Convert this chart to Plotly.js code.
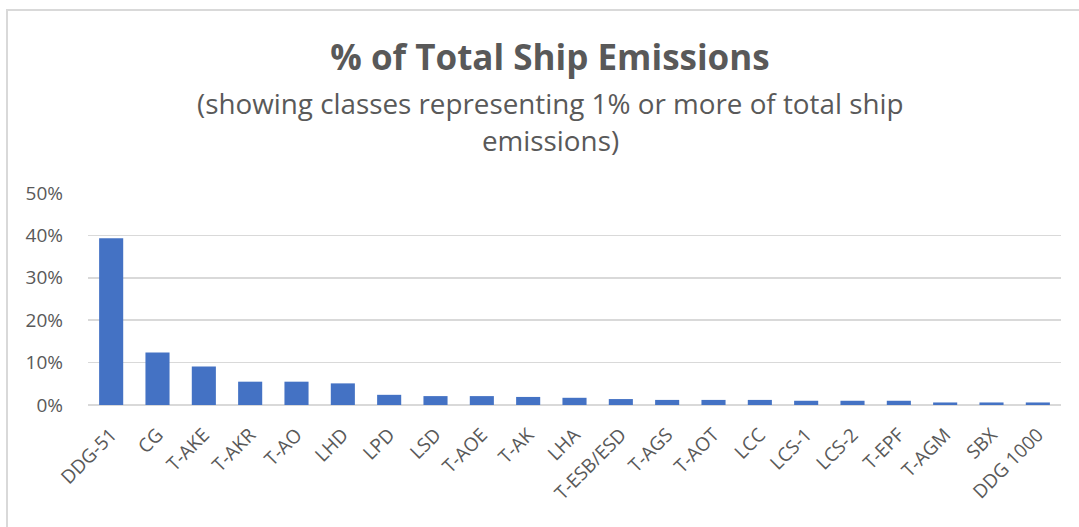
<!DOCTYPE html>
<html>
<head>
<meta charset="utf-8">
<script src="https://cdn.plot.ly/plotly-3.0.1.min.js"></script>
<style>
  html, body { margin: 0; padding: 0; background: #ffffff; }
  #chart { width: 1079px; height: 527px; }
</style>
</head>
<body>
<div id="chart"></div>
<script>
const categories = ["DDG-51", "CG", "T-AKE", "T-AKR", "T-AO", "LHD", "LPD", "LSD", "T-AOE", "T-AK", "LHA", "T-ESB/ESD", "T-AGS", "T-AOT", "LCC", "LCS-1", "LCS-2", "T-EPF", "T-AGM", "SBX", "DDG 1000"];
const shareValues = [0.393, 0.124, 0.091, 0.055, 0.055, 0.051, 0.024, 0.021, 0.021, 0.019, 0.017, 0.014, 0.012, 0.012, 0.012, 0.010, 0.010, 0.010, 0.006, 0.006, 0.006];
const yTickValues = [0, 0.1, 0.2, 0.3, 0.4, 0.5];
const yTickLabels = ["0%", "10%", "20%", "30%", "40%", "50%"];
const titleText = "% of Total Ship Emissions";
const subtitleLine1 = "(showing classes representing 1% or more of total ship";
const subtitleLine2 = "emissions)";

const W = 1079, H = 527;
const mL = 88, mR = 18, mT = 193, mB = 121.5;
const plotH = H - mT - mB;
const plotW = W - mL - mR;
const py = (Y) => (H - mB - Y) / plotH;   // pixel y -> paper y
const px = (X) => (X - mL) / plotW;       // pixel x -> paper x

const textColor = "#595959";
const font = "'Open Sans', 'Noto Sans', sans-serif";

const trace = {
  type: "bar",
  x: categories,
  y: shareValues,
  marker: { color: "#4472C4", line: { width: 0 } },
  hoverinfo: "x+y"
};

const layout = {
  width: W,
  height: H,
  margin: { l: mL, r: mR, t: mT, b: mB, pad: 0 },
  paper_bgcolor: "#ffffff",
  plot_bgcolor: "#ffffff",
  bargap: 0.48,
  showlegend: false,
  font: { family: font, color: textColor },
  title: {
    text: "<b>" + titleText + "</b>",
    font: { family: font, size: 35, color: textColor },
    xref: "container", x: 550 / W, xanchor: "center",
    yref: "container", y: 1 - 58 / H, yanchor: "middle"
  },
  annotations: [
    { text: subtitleLine1, xref: "paper", yref: "paper", x: px(550), y: py(103),
      xanchor: "center", yanchor: "middle", showarrow: false,
      font: { family: font, size: 27.8, color: textColor } },
    { text: subtitleLine2, xref: "paper", yref: "paper", x: px(550), y: py(140),
      xanchor: "center", yanchor: "middle", showarrow: false,
      font: { family: font, size: 27.8, color: textColor } }
  ],
  xaxis: {
    type: "category",
    tickangle: -45,
    tickfont: { family: font, size: 19, color: textColor },
    ticklabelstandoff: 14,
    showgrid: false,
    showline: false,
    ticks: "",
    zeroline: false,
    fixedrange: true
  },
  yaxis: {
    range: [0, 0.5],
    tickvals: yTickValues,
    ticktext: yTickLabels,
    tickfont: { family: font, size: 19, color: textColor },
    showgrid: true,
    gridcolor: "#D9D9D9",
    gridwidth: 1.5,
    zeroline: true,
    zerolinecolor: "#D9D9D9",
    zerolinewidth: 1.5,
    showline: false,
    ticks: "",
    ticklabelstandoff: 24,
    fixedrange: true
  },
  shapes: [
    { type: "rect", xref: "paper", yref: "paper", layer: "below",
      x0: px(7), x1: px(W + 10), y0: py(H + 10), y1: py(9.5),
      line: { color: "#D9D9D9", width: 2 }, fillcolor: "rgba(0,0,0,0)" }
  ]
};

Plotly.newPlot("chart", [trace], layout, { displayModeBar: false, staticPlot: true });
</script>
</body>
</html>
